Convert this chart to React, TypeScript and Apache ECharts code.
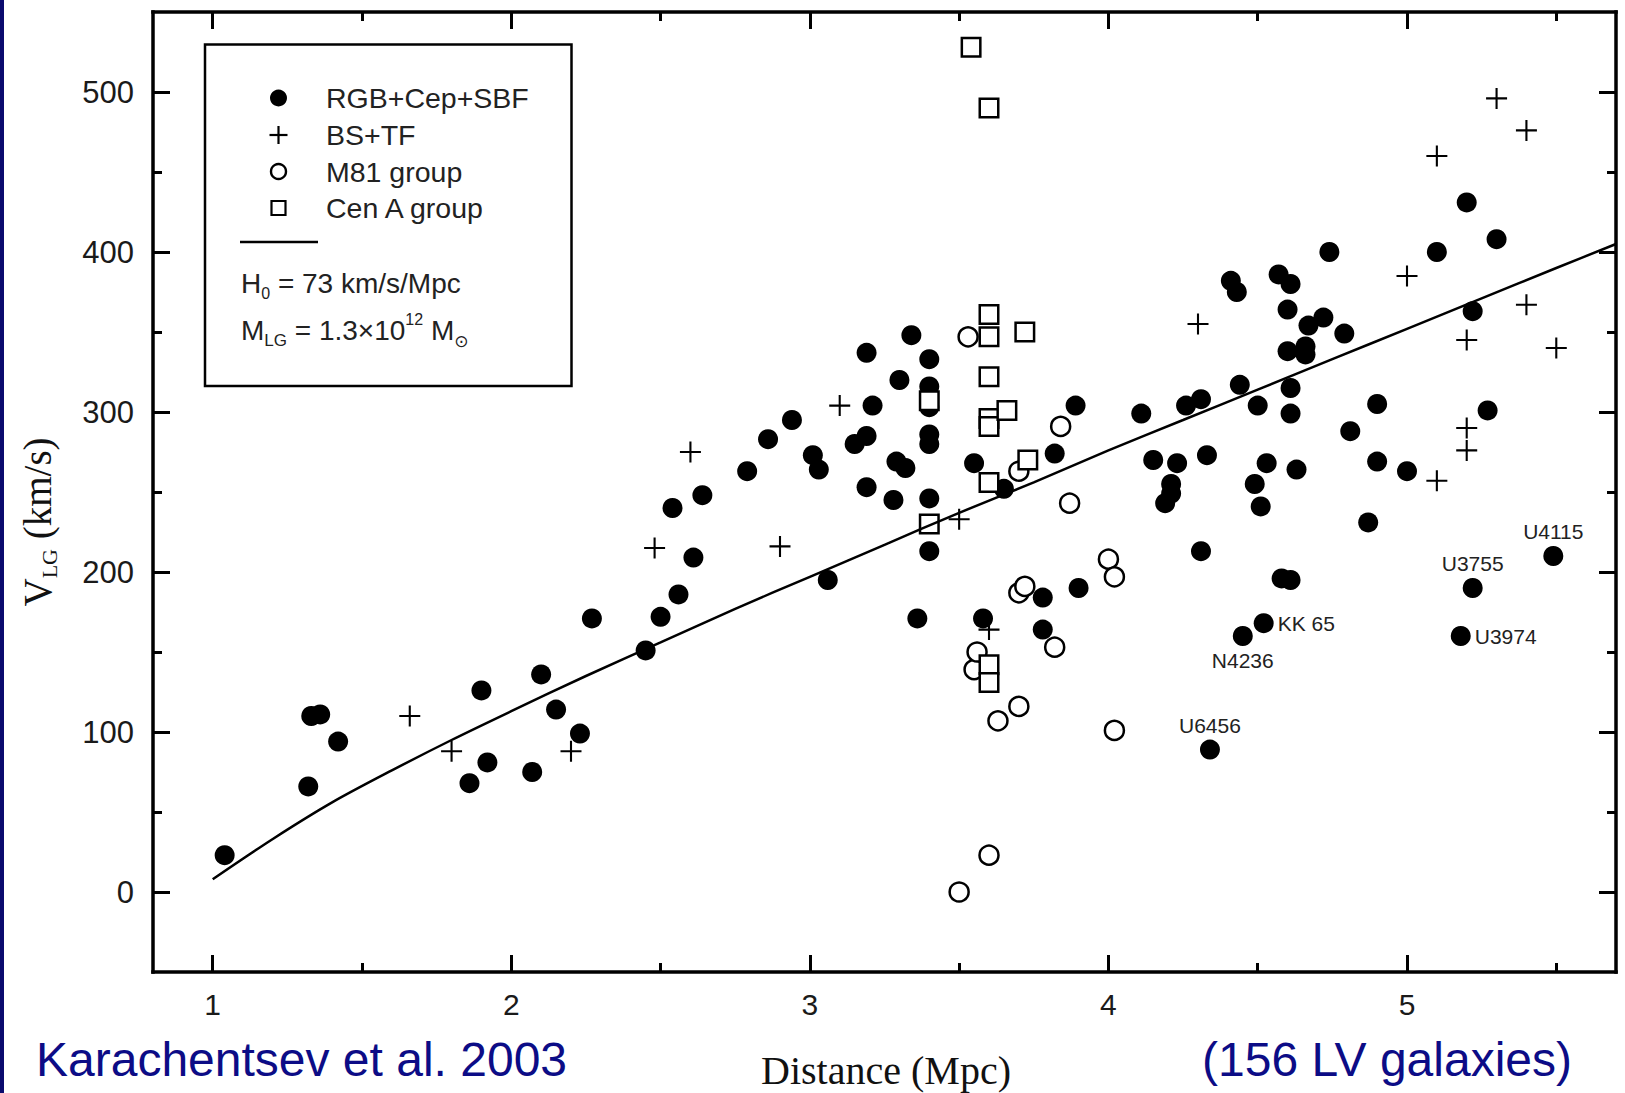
import React, { useEffect, useRef } from "react";
import * as echarts from "echarts";

// ---------- data ----------
const xMajorTicks = [1, 2, 3, 4, 5];
const xMinorTicks = [1.5, 2.5, 3.5, 4.5, 5.5];
const yMajorTicks = [0, 100, 200, 300, 400, 500];
const yMinorTicks = [50, 150, 250, 350, 450];

// Filled circles: RGB+Cep+SBF  [distance Mpc, V_LG km/s]
const rgbCepSbf: [number, number][] = [
  [1.04, 23], [1.32, 66], [1.33, 110], [1.36, 111], [1.42, 94], [1.86, 68],
  [1.9, 126], [1.92, 81], [2.07, 75], [2.1, 136], [2.15, 114], [2.23, 99],
  [2.27, 171], [2.45, 151], [2.5, 172], [2.54, 240], [2.56, 186], [2.61, 209],
  [2.64, 248], [2.79, 263], [2.86, 283], [2.94, 295], [3.01, 273], [3.03, 264],
  [3.06, 195], [3.15, 280], [3.19, 285], [3.19, 253], [3.19, 337], [3.21, 304],
  [3.28, 245], [3.29, 269], [3.32, 265], [3.3, 320], [3.34, 348], [3.36, 171],
  [3.4, 333], [3.4, 316], [3.4, 303], [3.4, 286], [3.4, 280], [3.4, 246],
  [3.4, 213], [3.55, 268], [3.58, 171], [3.65, 252], [3.78, 184], [3.78, 164],
  [3.82, 274], [3.89, 304], [3.9, 190],
  [4.11, 299], [4.15, 270], [4.19, 243], [4.21, 249], [4.21, 255], [4.23, 268],
  [4.26, 304], [4.31, 308], [4.31, 213], [4.33, 273], [4.41, 382], [4.43, 375],
  [4.44, 317], [4.49, 255], [4.5, 304], [4.51, 241], [4.53, 268], [4.57, 386],
  [4.58, 196], [4.6, 364], [4.6, 338], [4.61, 380], [4.61, 315], [4.61, 299],
  [4.61, 195], [4.63, 264], [4.66, 341], [4.66, 336], [4.67, 354], [4.72, 359],
  [4.74, 400], [4.79, 349], [4.81, 288], [4.87, 231], [4.9, 305], [4.9, 269],
  [5.0, 263], [5.1, 400], [5.2, 431], [5.22, 363], [5.27, 301], [5.3, 408],
];

// Named galaxies (also RGB+Cep+SBF)
const labeledNames = ["U4115", "U3755", "U3974", "KK 65", "N4236", "U6456"];
const labeledDist = [5.49, 5.22, 5.18, 4.52, 4.45, 4.34];
const labeledVel = [210, 190, 160, 168, 160, 89];

// Crosses: BS+TF
const bsTf: [number, number][] = [
  [1.66, 110], [1.8, 88], [2.2, 88], [2.48, 215], [2.6, 275], [2.9, 216],
  [3.1, 304], [3.5, 233], [3.6, 164], [4.3, 355], [5.0, 385], [5.1, 460],
  [5.1, 257], [5.2, 345], [5.2, 290], [5.2, 276], [5.3, 496], [5.4, 476],
  [5.4, 367], [5.5, 340],
];

// Open circles: M81 group
const m81Group: [number, number][] = [
  [3.5, 0], [3.53, 347], [3.55, 139], [3.56, 150], [3.6, 23], [3.63, 107],
  [3.7, 116], [3.7, 187], [3.7, 263], [3.72, 191], [3.82, 153], [3.84, 291],
  [3.87, 243], [4.0, 208], [4.02, 197], [4.02, 101],
];

// Open squares: Cen A group
const cenAGroup: [number, number][] = [
  [3.4, 230], [3.4, 307], [3.54, 528], [3.6, 490], [3.6, 361], [3.6, 347],
  [3.6, 322], [3.6, 296], [3.6, 291], [3.6, 256], [3.6, 142], [3.6, 131],
  [3.66, 301], [3.72, 350], [3.73, 270],
];

// Model curve (H0 = 73, M_LG = 1.3e12)
const modelDistance = [1.0, 1.2, 1.4, 1.6, 1.8, 2.0, 2.25, 2.5, 2.75, 3.0, 3.25, 3.5, 3.75, 4.0, 4.25, 4.5, 4.75, 5.0, 5.25, 5.5, 5.7];
const modelVelocity = [8, 33, 56, 76, 95, 113, 135, 156, 177, 197, 217, 237, 256, 276, 295, 314, 333, 352, 371, 390, 405];

// ---------- styling ----------
const SANS = "'Liberation Sans', Arial, sans-serif";
const SERIF = "'Liberation Serif', 'Times New Roman', serif";
const NAVY = "#0c0c86";
const labelSide: Record<string, string> = {
  U4115: "top",
  U3755: "top",
  U3974: "right",
  "KK 65": "right",
  N4236: "bottom",
  U6456: "top",
};

function xAxisDef(position: string, ticks: number[], len: number, showLine: boolean, showLabels: boolean) {
  return {
    type: "value",
    position,
    min: 0.8,
    max: 5.7,
    axisLine: { show: showLine, onZero: false, lineStyle: { color: "#000", width: 3.5, cap: "square" } },
    axisTick: { show: true, inside: true, length: len, customValues: ticks, lineStyle: { color: "#000", width: 3 } },
    axisLabel: showLabels
      ? { show: true, customValues: ticks, margin: 17, fontSize: 30, fontFamily: SANS, color: "#1a1a1a" }
      : { show: false },
    splitLine: { show: false },
  };
}

function yAxisDef(position: string, ticks: number[], len: number, showLine: boolean, showLabels: boolean) {
  return {
    type: "value",
    position,
    min: -50,
    max: 550,
    axisLine: { show: showLine, onZero: false, lineStyle: { color: "#000", width: 3.5, cap: "square" } },
    axisTick: { show: true, inside: true, length: len, customValues: ticks, lineStyle: { color: "#000", width: 3 } },
    axisLabel: showLabels
      ? { show: true, customValues: ticks, margin: 19, fontSize: 31, fontFamily: SANS, color: "#1a1a1a" }
      : { show: false },
    splitLine: { show: false },
  };
}

function buildOption() {
  const labeledData = labeledNames.map((n, i) => ({
    name: n,
    value: [labeledDist[i], labeledVel[i]],
    label: {
      show: true,
      position: labelSide[n],
      distance: 4,
      formatter: n,
      fontSize: 21,
      fontFamily: SANS,
      color: "#222",
    },
  }));

  const legendRows = ["RGB+Cep+SBF", "BS+TF", "M81 group", "Cen A group"];
  const rowY = [98, 135, 171.5, 208];
  const iconX = 278.5;

  const graphic: any[] = [
    // left navy slide border
    { type: "rect", x: 0, y: 0, shape: { x: 0, y: 0, width: 4, height: 1093 }, style: { fill: "#0a0a6e" }, z: 20 },
    // legend box
    {
      type: "rect",
      shape: { x: 205, y: 44.5, width: 366.5, height: 341.5 },
      style: { fill: "#fff", stroke: "#000", lineWidth: 2.5 },
      z: 10,
    },
    { type: "circle", shape: { cx: iconX, cy: rowY[0], r: 8.5 }, style: { fill: "#000" }, z: 11 },
    { type: "line", shape: { x1: iconX - 9, y1: rowY[1], x2: iconX + 9, y2: rowY[1] }, style: { stroke: "#000", lineWidth: 2.2 }, z: 11 },
    { type: "line", shape: { x1: iconX, y1: rowY[1] - 9, x2: iconX, y2: rowY[1] + 9 }, style: { stroke: "#000", lineWidth: 2.2 }, z: 11 },
    { type: "circle", shape: { cx: iconX, cy: rowY[2], r: 7.5 }, style: { fill: "#fff", stroke: "#000", lineWidth: 2.4 }, z: 11 },
    { type: "rect", shape: { x: iconX - 7, y: rowY[3] - 7, width: 14, height: 14 }, style: { fill: "#fff", stroke: "#000", lineWidth: 2.2 }, z: 11 },
    ...legendRows.map((t, i) => ({
      type: "text",
      x: 326,
      y: rowY[i],
      z: 11,
      style: { text: t, fontSize: 28.5, fontFamily: SANS, fill: "#222", align: "left", verticalAlign: "middle" },
    })),
    { type: "line", shape: { x1: 240, y1: 242, x2: 318, y2: 242 }, style: { stroke: "#000", lineWidth: 2.5 }, z: 11 },
    {
      type: "text",
      x: 241,
      y: 283,
      z: 11,
      style: {
        text: "{m|H}{sub|0}{m| = 73 km/s/Mpc}",
        align: "left",
        verticalAlign: "middle",
        fill: "#222",
        rich: {
          m: { fontSize: 28, fontFamily: SANS, lineHeight: 36, fill: "#222" },
          sub: { fontSize: 16, fontFamily: SANS, lineHeight: 16, verticalAlign: "bottom", fill: "#222" },
        },
      },
    },
    {
      type: "text",
      x: 241,
      y: 330,
      z: 11,
      style: {
        text: "{m|M}{sub|LG}{m| = 1.3×10}{sup|12}{m| M}{sun|⊙}",
        align: "left",
        verticalAlign: "middle",
        fill: "#222",
        rich: {
          m: { fontSize: 28, fontFamily: SANS, lineHeight: 38, fill: "#222" },
          sub: { fontSize: 17, fontFamily: SANS, lineHeight: 17, verticalAlign: "bottom", fill: "#222" },
          sup: { fontSize: 16, fontFamily: SANS, lineHeight: 16, verticalAlign: "top", fill: "#222" },
          sun: { fontSize: 17, fontFamily: "'DejaVu Sans', sans-serif", lineHeight: 17, verticalAlign: "bottom", fill: "#222" },
        },
      },
    },
    // y-axis title
    {
      type: "text",
      x: 37,
      y: 522,
      rotation: Math.PI / 2,
      style: {
        text: "{m|V}{sub|LG}{m| (km/s)}",
        align: "center",
        verticalAlign: "middle",
        fill: "#111",
        rich: {
          m: { fontSize: 39, fontFamily: SERIF, lineHeight: 46, fill: "#111" },
          sub: { fontSize: 22, fontFamily: SERIF, lineHeight: 22, verticalAlign: "bottom", fill: "#111" },
        },
      },
    },
    // x-axis title
    {
      type: "text",
      x: 886,
      y: 1070,
      style: { text: "Distance (Mpc)", fontSize: 40, fontFamily: SERIF, fill: "#111", align: "center", verticalAlign: "middle" },
    },
    // blue slide captions
    {
      type: "text",
      x: 36,
      y: 1059,
      style: { text: "Karachentsev et al. 2003", fontSize: 48, fontFamily: SANS, fill: NAVY, align: "left", verticalAlign: "middle" },
    },
    {
      type: "text",
      x: 1202,
      y: 1059,
      style: { text: "(156 LV galaxies)", fontSize: 48, fontFamily: SANS, fill: NAVY, align: "left", verticalAlign: "middle" },
    },
  ];

  return {
    animation: false,
    backgroundColor: "#fff",
    grid: { left: 153, top: 12, width: 1463, height: 960, containLabel: false },
    xAxis: [
      xAxisDef("bottom", xMajorTicks, 17, true, true),
      xAxisDef("bottom", xMinorTicks, 9, false, false),
      xAxisDef("top", xMajorTicks, 17, true, false),
      xAxisDef("top", xMinorTicks, 9, false, false),
    ],
    yAxis: [
      yAxisDef("left", yMajorTicks, 17, true, true),
      yAxisDef("left", yMinorTicks, 9, false, false),
      yAxisDef("right", yMajorTicks, 17, true, false),
      yAxisDef("right", yMinorTicks, 9, false, false),
    ],
    series: [
      {
        name: "RGB+Cep+SBF",
        type: "scatter",
        xAxisIndex: 0,
        yAxisIndex: 0,
        symbol: "circle",
        symbolSize: 20,
        itemStyle: { color: "#000", opacity: 1 },
        silent: true,
        z: 2,
        data: [...rgbCepSbf, ...labeledData],
      },
      {
        name: "BS+TF",
        type: "scatter",
        xAxisIndex: 0,
        yAxisIndex: 0,
        symbol: "path://M9,0h2v20h-2z M0,9h20v2h-20z",
        symbolSize: 21,
        itemStyle: { color: "#000", opacity: 1 },
        silent: true,
        z: 3,
        data: bsTf,
      },
      {
        name: "M81 group",
        type: "scatter",
        xAxisIndex: 0,
        yAxisIndex: 0,
        symbol: "circle",
        symbolSize: 19,
        itemStyle: { color: "#fff", borderColor: "#000", borderWidth: 2.5, opacity: 1 },
        silent: true,
        z: 4,
        data: m81Group,
      },
      {
        name: "Cen A group",
        type: "scatter",
        xAxisIndex: 0,
        yAxisIndex: 0,
        symbol: "rect",
        symbolSize: 18.5,
        itemStyle: { color: "#fff", borderColor: "#000", borderWidth: 2.5, opacity: 1 },
        silent: true,
        z: 5,
        data: cenAGroup,
      },
      {
        name: "H0 = 73 km/s/Mpc, M_LG = 1.3e12",
        type: "line",
        xAxisIndex: 0,
        yAxisIndex: 0,
        smooth: 0.3,
        symbol: "none",
        showSymbol: false,
        lineStyle: { color: "#000", width: 2.5 },
        silent: true,
        z: 6,
        data: modelDistance.map((d, i) => [d, modelVelocity[i]]),
      },
    ],
    graphic,
  };
}

export default function App() {
  const ref = useRef<HTMLDivElement>(null);
  useEffect(() => {
    if (!ref.current) return;
    const chart = echarts.init(ref.current, null, { renderer: "svg" });
    chart.setOption(buildOption() as any);
    return () => chart.dispose();
  }, []);
  return (
    <div
      ref={ref}
      style={{ position: "fixed", left: 0, top: 0, width: 1625, height: 1093, background: "#fff" }}
    />
  );
}
